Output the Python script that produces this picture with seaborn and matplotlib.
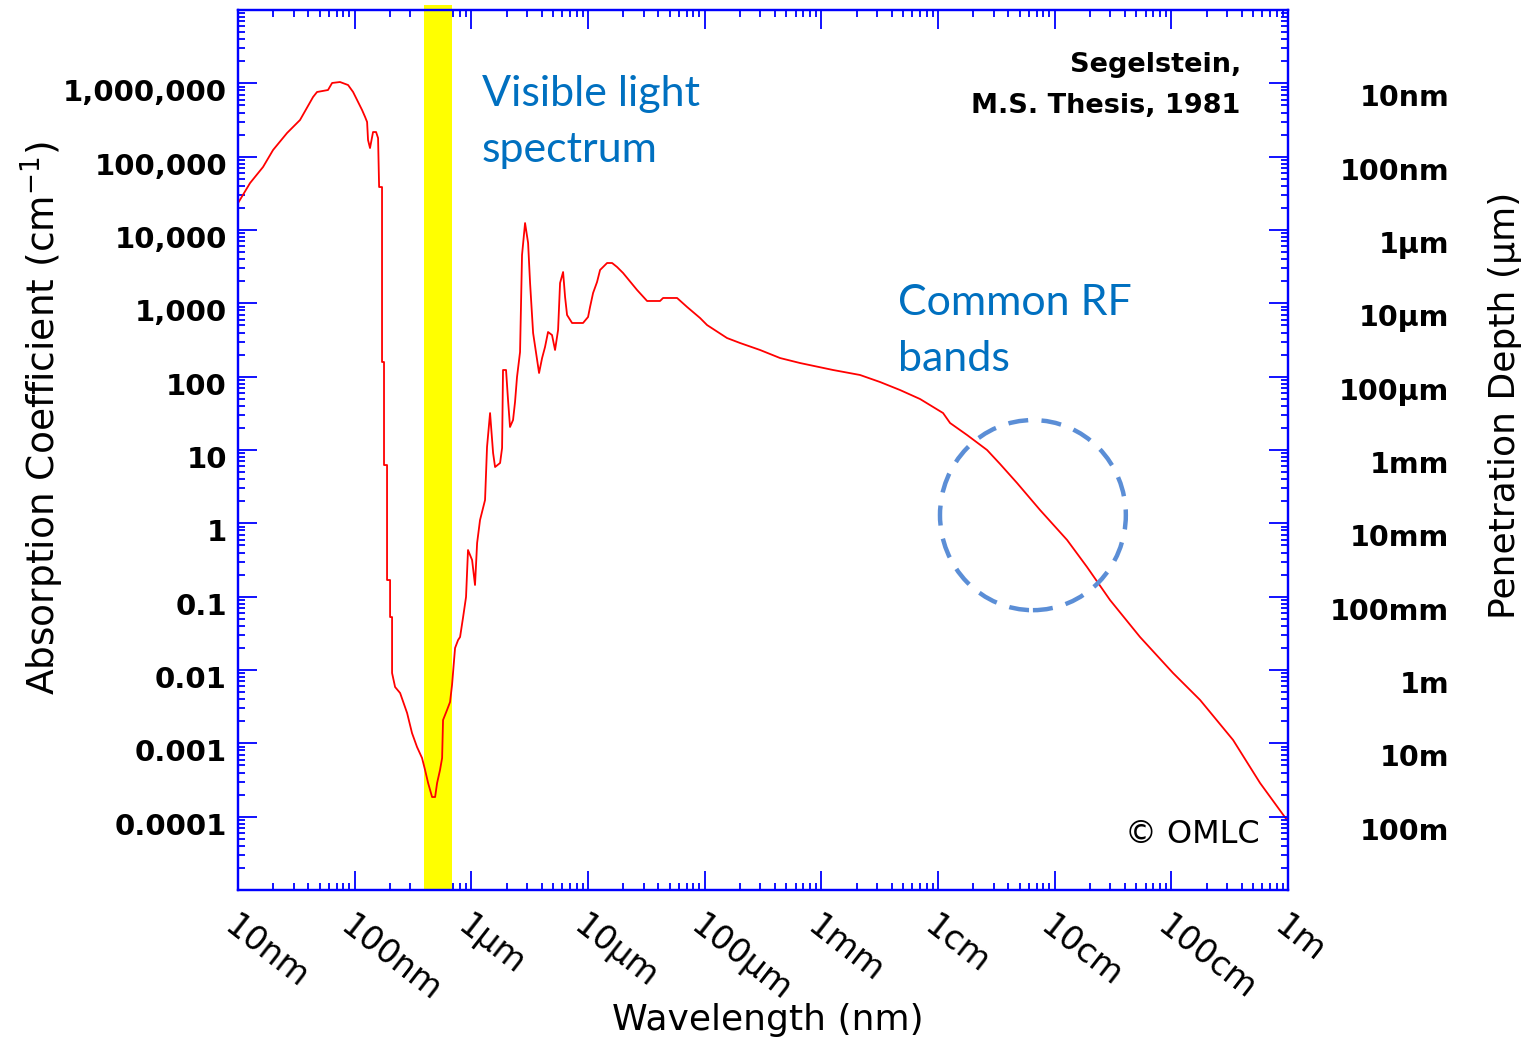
import numpy as np
import pandas as pd
import matplotlib
matplotlib.use("Agg")
import matplotlib.pyplot as plt
import seaborn as sns
from matplotlib.patches import Ellipse
from matplotlib.ticker import LogLocator, NullFormatter
from matplotlib.transforms import ScaledTranslation

# ---- data (log10 values) ----
wavelength_log10 = [
    1.000, 1.103, 1.214, 1.300, 1.420, 1.531, 1.643, 1.677, 1.771, 1.806, 1.874, 1.943,
    1.986, 2.020, 2.063, 2.089, 2.106, 2.114, 2.131, 2.157, 2.183, 2.200, 2.209, 2.234,
    2.234, 2.251, 2.251, 2.277, 2.277, 2.303, 2.303, 2.320, 2.320, 2.346, 2.389, 2.449,
    2.491, 2.534, 2.577, 2.603, 2.629, 2.663, 2.689, 2.706, 2.731, 2.749, 2.757, 2.791,
    2.817, 2.834, 2.860, 2.886, 2.903, 2.929, 2.954, 2.971, 3.006, 3.031, 3.049, 3.074,
    3.117, 3.134, 3.160, 3.186, 3.203, 3.246, 3.263, 3.271, 3.297, 3.314, 3.331, 3.357,
    3.374, 3.391, 3.417, 3.434, 3.460, 3.486, 3.503, 3.529, 3.563, 3.580, 3.606, 3.631,
    3.657, 3.691, 3.717, 3.743, 3.760, 3.786, 3.803, 3.820, 3.863, 3.957, 4.000, 4.017,
    4.043, 4.077, 4.103, 4.163, 4.206, 4.249, 4.300, 4.420, 4.506, 4.617, 4.643, 4.763,
    4.849, 4.960, 5.020, 5.191, 5.303, 5.474, 5.646, 5.817, 6.100, 6.331, 6.503, 6.674,
    6.846, 7.043, 7.103, 7.249, 7.420, 7.531, 7.677, 7.874, 8.106, 8.277, 8.474, 8.731,
    9.014, 9.246, 9.529, 9.760, 9.991,
]
absorption_log10 = [
    4.368, 4.641, 4.859, 5.091, 5.323, 5.500, 5.814, 5.882, 5.909, 6.005, 6.018, 5.977,
    5.882, 5.773, 5.636, 5.541, 5.473, 5.227, 5.118, 5.336, 5.336, 5.254, 4.586, 4.586,
    2.200, 2.200, 0.795, 0.795, -0.773, -0.773, -1.278, -1.278, -2.041, -2.232, -2.314, -2.587,
    -2.860, -3.050, -3.200, -3.364, -3.541, -3.732, -3.732, -3.541, -3.364, -3.200, -2.682, -2.546,
    -2.437, -2.205, -1.700, -1.591, -1.550, -1.278, -1.005, -0.364, -0.500, -0.841, -0.268, 0.045,
    0.318, 1.041, 1.504, 0.959, 0.768, 0.823, 1.027, 2.091, 2.091, 1.682, 1.314, 1.409,
    1.654, 1.995, 2.336, 3.659, 4.095, 3.823, 3.277, 2.595, 2.227, 2.050, 2.254, 2.404,
    2.609, 2.568, 2.364, 2.636, 3.277, 3.427, 3.086, 2.841, 2.732, 2.732, 2.814, 2.950,
    3.141, 3.291, 3.455, 3.550, 3.550, 3.495, 3.414, 3.182, 3.032, 3.032, 3.073, 3.073,
    2.950, 2.800, 2.704, 2.527, 2.459, 2.364, 2.254, 2.186, 2.091, 2.023, 1.927, 1.818,
    1.695, 1.504, 1.368, 1.204, 1.000, 0.810, 0.550, 0.182, -0.227, -0.596, -1.046, -1.550,
    -2.041, -2.409, -2.955, -3.541, -4.046,
]
visible_band_nm = [393, 682]

x_tick_values = [1e1, 1e2, 1e3, 1e4, 1e5, 1e6, 1e7, 1e8, 1e9, 1e10]
x_tick_labels = ["10nm", "100nm", "1µm", "10µm", "100µm", "1mm", "1cm", "10cm", "100cm", "1m"]
y_tick_values = [1e6, 1e5, 1e4, 1e3, 1e2, 1e1, 1e0, 1e-1, 1e-2, 1e-3, 1e-4]
y_tick_labels = ["1,000,000", "100,000", "10,000", "1,000", "100", "10", "1",
                 "0.1", "0.01", "0.001", "0.0001"]
depth_tick_labels = ["10nm", "100nm", "1µm", "10µm", "100µm", "1mm", "10mm",
                     "100mm", "1m", "10m", "100m"]

# ---- style ----
sns.set_style("white")
plt.rcParams['font.family'] = ['DejaVu Sans']
plt.rcParams['text.color'] = 'black'
AXIS_BLUE = "#0000FF"
NOTE_BLUE = "#0070C0"
narrow = ['Liberation Sans Narrow', 'DejaVu Sans']

fig = plt.figure(figsize=(15.28, 10.41), dpi=100)
fig.patch.set_facecolor("white")
ax = fig.add_axes([0.1558, 0.14505, 0.68717, 0.84534])
ax.set_facecolor("white")
ax.set_xscale("log")
ax.set_yscale("log")

df = pd.DataFrame({
    "wavelength": 10 ** np.array(wavelength_log10),
    "absorption": 10 ** np.array(absorption_log10),
})

ax.axvspan(visible_band_nm[0], visible_band_nm[1], ymin=0, ymax=1.006,
           color="#FFFF00", lw=0, zorder=1, clip_on=False)
sns.lineplot(data=df, x="wavelength", y="absorption", sort=False, estimator=None,
             color="#FF0000", lw=1.3, ax=ax, zorder=3)

ax.set_xlim(1e1, 1e10)
ax.set_ylim(1e-5, 1e7)

# ticks
ax.set_xticks(x_tick_values)
ax.set_xticklabels(x_tick_labels, fontsize=24, rotation=-38, ha="left", va="top",
                   rotation_mode="anchor", color="black")
ax.set_yticks(y_tick_values)
ax.set_yticklabels(y_tick_labels, fontsize=21, fontweight="bold", color="black")
for axis in (ax.xaxis, ax.yaxis):
    axis.set_minor_locator(LogLocator(base=10, subs=np.arange(2, 10), numticks=100))
    axis.set_minor_formatter(NullFormatter())

ax.tick_params(which="both", direction="in", color=AXIS_BLUE, width=1.3,
               top=True, bottom=True, left=True, right=False, labelcolor="black")
ax.tick_params(which="major", length=14)
ax.tick_params(which="minor", length=5)
ax.tick_params(axis="y", which="major", pad=8)
ax.tick_params(axis="x", which="major", pad=14)

ax2 = ax.twinx()
ax2.set_yscale("log")
ax2.set_ylim(1e-5, 1e7)
ax2.set_yticks(y_tick_values)
ax2.set_yticklabels(depth_tick_labels, fontsize=20.5, fontweight="bold", ha="right",
                    color="black")
ax2.yaxis.set_minor_locator(LogLocator(base=10, subs=np.arange(2, 10), numticks=100))
ax2.yaxis.set_minor_formatter(NullFormatter())
ax2.tick_params(which="both", direction="in", color=AXIS_BLUE, width=1.3, labelcolor="black")
ax2.tick_params(which="major", length=14, pad=116)
ax2.tick_params(which="minor", length=5)
ax2.grid(False)
ax.grid(False)

for a in (ax, ax2):
    for sp in a.spines.values():
        sp.set_color(AXIS_BLUE)
        sp.set_linewidth(1.6)
        sp.set_visible(True)

# axis labels
ax.set_xlabel("")
ax.set_ylabel("")
ax.text(0.505, -0.148, "Wavelength (nm)", transform=ax.transAxes, ha="center", va="center",
        fontsize=26, family=narrow, color="black")
ax.text(-0.187, 0.536, "Absorption Coefficient (cm$^{-1}$)", transform=ax.transAxes,
        ha="center", va="center", rotation=90, fontsize=27, family=narrow, color="black")
ax.text(1.207, 0.551, "Penetration Depth (µm)", transform=ax.transAxes,
        ha="center", va="center", rotation=90, fontsize=26, family=narrow, color="black")

# annotations
ax.text(0.232, 0.926, "Visible light\nspectrum", transform=ax.transAxes, ha="left", va="top",
        fontsize=31, color=NOTE_BLUE, family=["Lato", "DejaVu Sans"], linespacing=1.58)
ax.text(0.6286, 0.689, "Common RF\nbands", transform=ax.transAxes, ha="left", va="top",
        fontsize=31, color=NOTE_BLUE, family=["Lato", "DejaVu Sans"], linespacing=1.58)
ax.text(0.955, 0.952, "Segelstein,\nM.S. Thesis, 1981", transform=ax.transAxes,
        ha="right", va="top", fontsize=19.5, fontweight="bold", linespacing=1.75,
        color="black")
ax.text(0.973, 0.063, "© OMLC", transform=ax.transAxes, ha="right", va="center",
        fontsize=23, color="black")

ax.add_patch(Ellipse((0.757, 0.426), 0.177, 0.216, transform=ax.transAxes, fill=False,
                     ec="#5B8ED6", lw=3.2, ls=(0, (4.5, 3)), zorder=4, clip_on=False))

# small vertical offsets of y tick labels as in the reference
for lbl in ax.get_yticklabels():
    lbl.set_transform(lbl.get_transform() + ScaledTranslation(0, -0.07, fig.dpi_scale_trans))
for lbl in ax2.get_yticklabels():
    lbl.set_transform(lbl.get_transform() + ScaledTranslation(0, -0.12, fig.dpi_scale_trans))

fig.savefig("out.png", dpi=100, facecolor="white")
